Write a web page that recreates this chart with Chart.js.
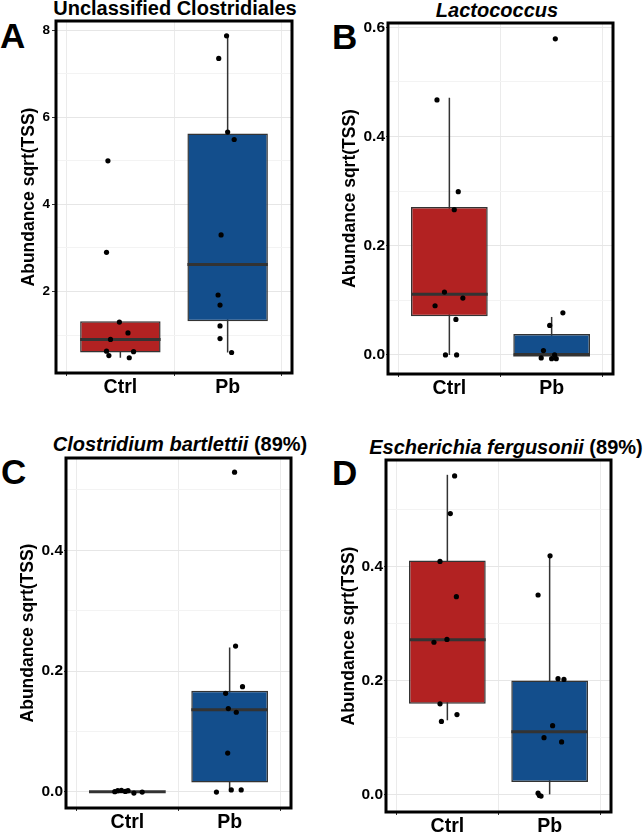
<!DOCTYPE html>
<html>
<head>
<meta charset="utf-8">
<script src="https://cdn.jsdelivr.net/npm/chart.js@4.4.1/dist/chart.umd.min.js"></script>
<style>
  html, body { margin:0; padding:0; background:#fff; }
  body { width:643px; height:833px; position:relative; overflow:hidden; font-family:'Liberation Sans', Arial, sans-serif; }
  canvas { position:absolute; }
  .ttl { position:absolute; width:400px; text-align:center; font-weight:bold; font-size:20px; line-height:20px; white-space:nowrap; color:#000; }
  .ttl i { font-style:italic; }
  .lab { position:absolute; font-weight:bold; font-size:35px; line-height:35px; color:#000; }
</style>
</head>
<body>
<div class="lab" style="left:0px;top:18px;">A</div>
<div class="lab" style="left:332px;top:18.5px;">B</div>
<div class="lab" style="left:1px;top:454px;">C</div>
<div class="lab" style="left:332px;top:455px;">D</div>
<div class="ttl" style="left:-25px;top:-2px;">Unclassified Clostridiales</div>
<div class="ttl" style="left:297px;top:0px;"><i>Lactococcus</i></div>
<div class="ttl" style="left:-20px;top:434px;"><i>Clostridium bartlettii</i> (89%)</div>
<div class="ttl" style="left:306px;top:436.5px;"><i>Escherichia fergusonii</i> (89%)</div>
<canvas id="cA"></canvas>
<canvas id="cB"></canvas>
<canvas id="cC"></canvas>
<canvas id="cD"></canvas>
<script>
// ---------- data ----------
const categories = ['Ctrl', 'Pb'];
const yAxisTitle = 'Abundance sqrt(TSS)';

// Panel A: Unclassified Clostridiales
const aCtrlValues = [5.0, 2.9, 1.30, 1.05, 0.90, 0.63, 0.62, 0.53, 0.48];
const aCtrlJitter = [-0.116, -0.129, -0.009, 0.071, -0.092, -0.129, 0.123, -0.107, 0.083];
const aPbValues   = [7.87, 7.35, 5.66, 5.49, 3.30, 1.92, 1.69, 1.21, 0.92, 0.60];
const aPbJitter   = [-0.010, -0.083, 0.000, 0.061, -0.061, -0.089, -0.071, -0.071, -0.071, 0.037];
const aWhiskerLow  = [0.48, 0.60];
const aQ1          = [0.60, 1.32];
const aMedian      = [0.90, 2.62];
const aQ3          = [1.32, 5.63];
const aWhiskerHigh = [1.32, 7.87];
const aMajorTicks = [2, 4, 6, 8];
const aTickLabels = ['2', '4', '6', '8'];
const aMinorTicks = [1, 3, 5, 7];
const aRange = [0.13, 8.21];

// Panel B: Lactococcus
const bCtrlValues = [0.467, 0.299, 0.266, 0.115, 0.104, 0.090, 0.065, 0.000, 0.000];
const bCtrlJitter = [-0.121, 0.087, 0.048, -0.048, 0.132, -0.140, 0.064, -0.038, 0.071];
const bPbValues   = [0.579, 0.077, 0.054, 0.008, 0.000, -0.0055, -0.007, -0.007];
const bPbJitter   = [0.036, 0.110, -0.019, -0.080, 0.029, -0.102, 0.000, 0.045];
const bWhiskerLow  = [0.000, 0.000];
const bQ1          = [0.0706, 0.000];
const bMedian      = [0.111, 0.000];
const bQ3          = [0.2707, 0.0384];
const bWhiskerHigh = [0.471, 0.0695];
const bMajorTicks = [0.0, 0.2, 0.4, 0.6];
const bTickLabels = ['0.0', '0.2', '0.4', '0.6'];
const bMinorTicks = [0.1, 0.3, 0.5];
const bRange = [-0.035, 0.608];

// Panel C: Clostridium bartlettii (89%)
const cCtrlValues = [0.000, 0.0017, 0.0022, 0.0017, -0.0022, -0.0006, 0.0005];
const cCtrlJitter = [-0.123, -0.094, -0.058, 0.006, 0.064, 0.145, -0.020];
const cPbValues   = [0.5295, 0.2413, 0.174, 0.163, 0.1377, 0.1317, 0.064, -0.0006, 0.003, 0.003];
const cPbJitter   = [0.048, 0.058, 0.126, -0.039, -0.013, 0.065, -0.019, -0.129, 0.016, 0.113];
const cWhiskerLow  = [0.000, 0.000];
const cQ1          = [0.000, 0.0154];
const cMedian      = [0.000, 0.136];
const cQ3          = [0.000, 0.1675];
const cWhiskerHigh = [0.000, 0.239];
const cMajorTicks = [0.0, 0.2, 0.4];
const cTickLabels = ['0.0', '0.2', '0.4'];
const cMinorTicks = [0.1, 0.3, 0.5];
const cRange = [-0.027, 0.553];

// Panel D: Escherichia fergusonii (89%)
const dCtrlValues = [0.559, 0.493, 0.409, 0.347, 0.272, 0.267, 0.159, 0.140, 0.128];
const dCtrlJitter = [0.071, 0.029, -0.072, 0.088, -0.004, -0.131, -0.072, 0.094, -0.058];
const dPbValues   = [0.4188, 0.350, 0.203, 0.2018, 0.1205, 0.0995, 0.092, 0.002, -0.003, -0.002];
const dPbJitter   = [0.004, -0.113, 0.082, 0.140, 0.029, -0.055, 0.117, -0.113, -0.084, -0.100];
const dWhiskerLow  = [0.130, 0.000];
const dQ1          = [0.159, 0.0217];
const dMedian      = [0.2714, 0.110];
const dQ3          = [0.4105, 0.200];
const dWhiskerHigh = [0.561, 0.419];
const dMajorTicks = [0.0, 0.2, 0.4];
const dTickLabels = ['0.0', '0.2', '0.4'];
const dMinorTicks = [0.1, 0.3, 0.5];
const dRange = [-0.031, 0.587];

// ---------- styles ----------
const boxColors = ['#B22222', '#134E8C'];
const FONT = "'Liberation Sans', Arial, sans-serif";

const framePlugin = {
  id: 'frame',
  afterDatasetsDraw(chart) {
    const { ctx, chartArea: a } = chart;
    ctx.save();
    ctx.strokeStyle = '#000';
    ctx.lineWidth = 3;
    ctx.strokeRect(a.left, a.top, a.right - a.left, a.bottom - a.top);
    ctx.restore();
  }
};

function makePanel(id, layout, d) {
  const cv = document.getElementById(id);
  cv.style.left = layout.x + 'px';
  cv.style.top = layout.y + 'px';
  cv.width = layout.w; cv.height = layout.h;

  const points = [];
  d.ctrl.forEach((v, i) => points.push({ x: 1 + d.ctrlJ[i], y: v }));
  d.pb.forEach((v, i) => points.push({ x: 2 + d.pbJ[i], y: v }));

  const half = 0.375;
  const medianSets = [0, 1].map(g => ({
    type: 'line',
    data: [{ x: g + 1 - half, y: d.med[g] }, { x: g + 1 + half, y: d.med[g] }],
    borderColor: '#333333', borderWidth: 3, pointRadius: 0, borderCapStyle: 'butt', order: 1
  }));
  const whiskerSets = [0, 1].map(g => ({
    type: 'line',
    data: [{ x: g + 1, y: d.wl[g] }, { x: g + 1, y: d.wh[g] }],
    borderColor: '#333333', borderWidth: 1.5, pointRadius: 0, borderCapStyle: 'butt', order: 3
  }));

  const majorSet = d.major;
  const allTicks = d.major.concat(d.minor).sort((a, b) => a - b);
  const isMajor = v => majorSet.some(m => Math.abs(m - v) < 1e-9);

  new Chart(cv, {
    type: 'bar',
    data: {
      datasets: [
        { type: 'scatter', data: points, pointRadius: 2.6, pointBackgroundColor: '#000', pointBorderWidth: 0, order: 0 },
        ...medianSets,
        { type: 'bar',
          data: [{ x: 1, y: [d.q1[0], d.q3[0]] }, { x: 2, y: [d.q1[1], d.q3[1]] }],
          backgroundColor: boxColors, borderColor: '#333333', borderWidth: 1.5, borderSkipped: false,
          barPercentage: 0.75, categoryPercentage: 1, order: 2 },
        ...whiskerSets
      ]
    },
    options: {
      responsive: false, animation: false, devicePixelRatio: 1,
      layout: { padding: { left: 0, right: layout.padR, top: layout.padT, bottom: layout.padB } },
      plugins: { legend: { display: false }, tooltip: { enabled: false }, title: { display: false } },
      scales: {
        x: {
          type: 'linear', min: 0.4, max: 2.6, offset: false,
          afterBuildTicks: s => { s.ticks = [{ value: 1 }, { value: 2 }]; },
          afterFit: s => { s.height = layout.xH; },
          ticks: { callback: v => categories[Math.round(v) - 1], color: '#000', padding: 0,
                   maxRotation: 0, autoSkip: false, font: { family: FONT, size: 19.5, weight: 'bold' } },
          grid: { color: '#EBEBEB', lineWidth: 1, tickColor: '#333', tickLength: 3 },
          border: { display: false }
        },
        y: {
          type: 'linear', min: d.range[0], max: d.range[1],
          afterBuildTicks: s => { s.ticks = allTicks.map(v => ({ value: v })); },
          afterFit: s => { s.width = layout.yW; },
          ticks: {
            callback: v => { const i = majorSet.findIndex(m => Math.abs(m - v) < 1e-9); return i >= 0 ? d.labels[i] : ''; },
            color: '#000', padding: layout.yPad, autoSkip: false,
            font: { family: FONT, size: layout.yFont, weight: 'bold' }
          },
          grid: {
            color: c => (c.tick && isMajor(c.tick.value)) ? '#E6E6E6' : '#F3F3F3',
            lineWidth: 1,
            tickColor: c => (c.tick && isMajor(c.tick.value)) ? '#333' : 'rgba(0,0,0,0)',
            tickLength: layout.yTick
          },
          border: { display: false },
          title: { display: true, text: yAxisTitle, color: '#000',
                   font: { family: FONT, size: 17.5, weight: 'bold', lineHeight: 1.2 },
                   padding: { top: layout.titleCx - 10.5, bottom: 0 } }
        }
      }
    },
    plugins: [framePlugin]
  });
}

// layout: canvas position/size, axis sizes, paddings (chart area = frame)
makePanel('cA', { x: 0, y: 0, w: 320, h: 412, yW: 56, padR: 28, padT: 21, padB: 412 - 373 - 24, xH: 24, yTick: 4, yPad: 2, yFont: 13.5, titleCx: 29.5 },
  { ctrl: aCtrlValues, ctrlJ: aCtrlJitter, pb: aPbValues, pbJ: aPbJitter, wl: aWhiskerLow, q1: aQ1, med: aMedian, q3: aQ3, wh: aWhiskerHigh,
    major: aMajorTicks, labels: aTickLabels, minor: aMinorTicks, range: aRange });
makePanel('cB', { x: 320, y: 0, w: 323, h: 412, yW: 68, padR: 30, padT: 23, padB: 412 - 374 - 24, xH: 24, yTick: 2, yPad: 1, yFont: 15.5, titleCx: 30 },
  { ctrl: bCtrlValues, ctrlJ: bCtrlJitter, pb: bPbValues, pbJ: bPbJitter, wl: bWhiskerLow, q1: bQ1, med: bMedian, q3: bQ3, wh: bWhiskerHigh,
    major: bMajorTicks, labels: bTickLabels, minor: bMinorTicks, range: bRange });
makePanel('cC', { x: 0, y: 420, w: 320, h: 413, yW: 66, padR: 29, padT: 38, padB: 0, xH: 25, yTick: 2, yPad: 1, yFont: 15.5, titleCx: 28 },
  { ctrl: cCtrlValues, ctrlJ: cCtrlJitter, pb: cPbValues, pbJ: cPbJitter, wl: cWhiskerLow, q1: cQ1, med: cMedian, q3: cQ3, wh: cWhiskerHigh,
    major: cMajorTicks, labels: cTickLabels, minor: cMinorTicks, range: cRange });
makePanel('cD', { x: 320, y: 420, w: 323, h: 413, yW: 66, padR: 32, padT: 40, padB: 0, xH: 21, yTick: 2, yPad: 1, yFont: 15.5, titleCx: 29 },
  { ctrl: dCtrlValues, ctrlJ: dCtrlJitter, pb: dPbValues, pbJ: dPbJitter, wl: dWhiskerLow, q1: dQ1, med: dMedian, q3: dQ3, wh: dWhiskerHigh,
    major: dMajorTicks, labels: dTickLabels, minor: dMinorTicks, range: dRange });
</script>
</body>
</html>
